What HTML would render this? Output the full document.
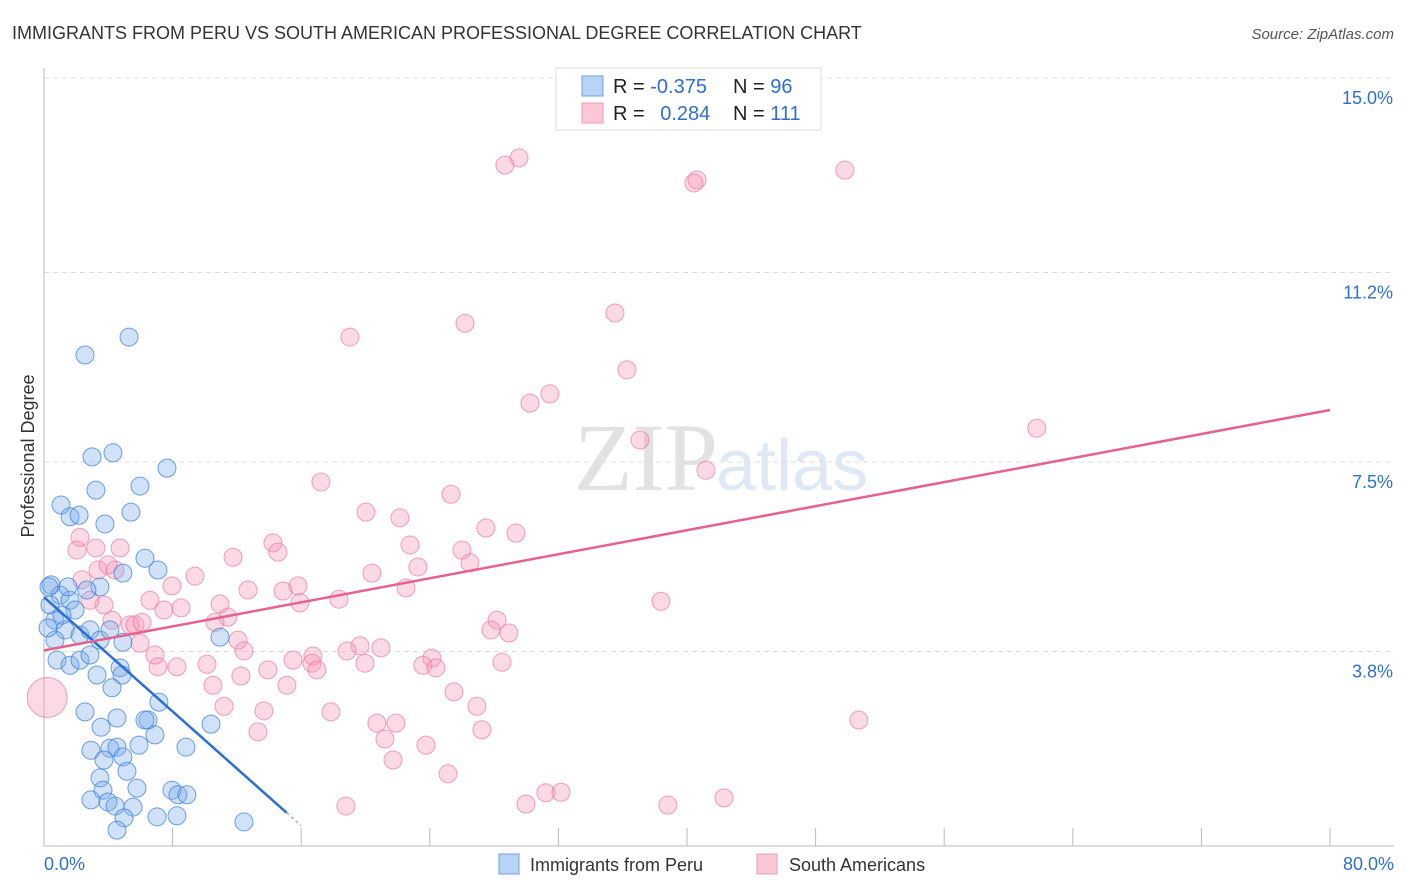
<!DOCTYPE html>
<html><head><meta charset="utf-8"><style>
body{margin:0;background:#fff;font-family:"Liberation Sans",sans-serif}
svg{display:block}
</style></head><body>
<svg id="chart" width="1406" height="892" xmlns="http://www.w3.org/2000/svg">
<text x="12" y="39" font-size="18" fill="#333">IMMIGRANTS FROM PERU VS SOUTH AMERICAN PROFESSIONAL DEGREE CORRELATION CHART</text>
<text x="1394" y="39" font-size="15" font-style="italic" fill="#555" text-anchor="end">Source: ZipAtlas.com</text>
<text x="34" y="456" font-size="18" fill="#333" text-anchor="middle" transform="rotate(-90 34 456)">Professional Degree</text>
<text x="718" y="490" font-size="96" font-family="Liberation Serif,serif" fill="#e2e2e2" text-anchor="end">ZIP</text>
<text x="716" y="490" font-size="72" fill="#dfe9f6">atlas</text>
<g id="grid"></g><g id="axes"></g><g id="pts"></g><g id="lines"></g>
<g>
<rect x="556" y="68" width="265" height="62" fill="#fff" stroke="#ddd"/>
<rect x="582" y="76" width="21" height="20" fill="#b8d4f5" stroke="#6fa2e0"/>
<rect x="582" y="103" width="21" height="20" fill="#fbc8d6" stroke="#f09ab5"/>
<text x="613" y="93" font-size="20" fill="#222">R = <tspan fill="#2f6fd0">-0.375</tspan></text>
<text x="733" y="93" font-size="20" fill="#222">N = <tspan fill="#2f6fd0">96</tspan></text>
<text x="613" y="120" font-size="20" fill="#222">R = <tspan fill="#2f6fd0" dx="10">0.284</tspan></text>
<text x="733" y="120" font-size="20" fill="#222">N = <tspan fill="#2f6fd0">111</tspan></text>
</g>
<g>
<rect x="499" y="854" width="20" height="20" fill="#b8d4f5" stroke="#6fa2e0"/>
<text x="530" y="871" font-size="18" fill="#333">Immigrants from Peru</text>
<rect x="757" y="854" width="20" height="20" fill="#fbc8d6" stroke="#f09ab5"/>
<text x="789" y="871" font-size="18" fill="#333">South Americans</text>
</g>
<text x="44" y="870" font-size="18" fill="#2f6fd0">0.0%</text>
<text x="1394" y="870" font-size="18" fill="#2f6fd0" text-anchor="end">80.0%</text>
</svg>
<script>
const yTicks=[3.8,7.5,11.2,15.0];
const yTickLabels=["3.8%","7.5%","11.2%","15.0%"];
const xTicks=[0,8,16,24,32,40,48,56,64,72,80];
const blueX=[5.29,2.55,4.29,2.99,7.65,5.97,3.23,1.06,1.62,2.18,5.41,3.79,6.28,7.09,4.91,3.48,2.67,0.44,1.0,1.62,1.93,0.37,0.68,1.31,2.24,2.86,3.48,4.1,4.91,0.81,1.62,2.24,2.86,3.3,4.73,4.85,4.23,7.15,2.55,3.55,4.54,6.47,6.28,6.9,10.39,2.92,4.1,4.54,5.91,8.83,4.91,3.48,3.73,5.16,2.92,3.67,3.98,4.42,5.54,5.78,7.96,8.33,8.89,4.98,7.03,8.27,4.54,12.44,10.95,0.68,0.25,0.31,1.12,1.49];
const blueY=[9.94,9.59,7.68,7.6,7.38,7.03,6.95,6.66,6.43,6.46,6.52,6.29,5.62,5.39,5.33,5.06,5.0,5.1,4.9,4.8,4.61,4.71,4.41,4.22,4.12,4.22,4.02,4.22,3.98,3.63,3.53,3.63,3.73,3.34,3.48,3.34,3.09,2.81,2.62,2.32,2.5,2.46,2.46,2.17,2.38,1.87,1.91,1.93,1.97,1.93,1.74,1.33,1.68,1.46,0.9,1.09,0.86,0.78,0.76,1.13,1.09,1.0,1.0,0.55,0.57,0.59,0.31,0.47,4.08,4.02,4.26,5.06,4.51,5.06];
const pinkX=[29.55,28.67,40.62,40.43,49.82,35.52,26.19,19.03,36.26,31.47,30.23,37.07,61.76,41.18,17.23,25.32,20.03,22.14,27.49,29.36,14.24,22.77,14.55,26.0,11.76,26.5,20.4,23.26,9.39,15.8,7.96,12.69,14.87,22.52,18.35,15.92,10.95,7.46,8.52,38.38,28.18,27.8,28.92,11.44,10.64,5.35,5.66,6.1,12.07,19.66,18.85,20.96,16.73,16.67,15.49,16.98,24.13,23.57,24.38,19.97,28.49,12.44,10.14,8.27,7.09,6.9,13.93,12.25,10.51,15.11,25.5,11.2,13.68,17.85,26.93,20.71,21.89,27.24,13.31,21.21,23.76,50.69,21.71,25.13,31.22,32.16,29.98,18.78,38.81,42.3,4.42,3.73,2.05,2.24,3.23,4.73,2.86,3.36,3.98,2.36,5.97,4.23,6.59];
const pinkY=[13.44,13.3,13.01,12.95,13.2,10.41,10.21,9.94,9.3,8.83,8.65,7.93,8.16,7.34,7.11,6.87,6.52,6.41,6.21,6.11,5.92,5.88,5.74,5.78,5.64,5.53,5.33,5.45,5.27,5.08,5.08,5.0,4.98,5.04,4.82,4.75,4.73,4.61,4.65,4.78,4.41,4.22,4.16,4.47,4.37,4.32,4.32,4.37,4.02,3.91,3.81,3.87,3.71,3.57,3.63,3.44,3.67,3.53,3.48,3.57,3.59,3.81,3.55,3.5,3.5,3.73,3.44,3.32,3.14,3.14,3.01,2.73,2.64,2.62,2.73,2.4,2.4,2.27,2.23,2.09,1.97,2.46,1.68,1.41,1.04,1.05,0.82,0.78,0.8,0.94,5.39,4.71,5.78,6.03,5.82,5.82,4.8,5.39,5.49,5.2,3.96,4.41,4.8];
const blueTrend=[4.86,-0.279];
const pinkTrend=[3.82,0.0587];
const NS="http://www.w3.org/2000/svg";
const X=v=>44+v/80*1286, Y=v=>846-v/3.75*192;
function mk(t,a,p){const e=document.createElementNS(NS,t);for(const k in a)e.setAttribute(k,a[k]);p.appendChild(e);return e;}
const grid=document.getElementById('grid'),axes=document.getElementById('axes');
yTicks.forEach((t,i)=>{
 const l=mk('line',{x1:44,x2:1394,y1:Y(t),y2:Y(t),stroke:'#ddd','stroke-dasharray':'5,4'},grid);
 
 
 const tx=mk('text',{x:1393,y:Y(t)+26,'font-size':18,fill:'#2f6fd0','text-anchor':'end'},grid);
 tx.textContent=yTickLabels[i];
 
 
});
const ax=mk('line',{x1:44,x2:1394,y1:846,y2:846,stroke:'#bbb'},axes);


const ay=mk('line',{x1:44,x2:44,y1:68,y2:846,stroke:'#bbb'},axes);


xTicks.forEach(t=>{const l=mk('line',{x1:X(t),x2:X(t),y1:828,y2:846,stroke:'#bbb'},axes);
 
 });
const pts=document.getElementById('pts');
pinkX.forEach((x,i)=>{const c=mk('circle',{cx:X(x),cy:Y(pinkY[i]),r:9,fill:'rgba(245,150,180,0.35)',stroke:'rgba(235,120,160,0.7)','stroke-width':1},pts);
 
 });
const big=mk('circle',{cx:X(0.2),cy:Y(2.9),r:20,fill:'rgba(245,150,180,0.35)',stroke:'rgba(235,120,160,0.7)'},pts);


blueX.forEach((x,i)=>{const c=mk('circle',{cx:X(x),cy:Y(blueY[i]),r:9,fill:'rgba(120,170,235,0.35)',stroke:'rgba(60,130,220,0.75)','stroke-width':1},pts);
 
 });
const lines=document.getElementById('lines');
const bl=mk('line',{x1:X(0),y1:Y(blueTrend[0]),x2:X(15.1),y2:Y(blueTrend[0]+blueTrend[1]*15.1),stroke:'#2a6fd6','stroke-width':2.5},lines);


const bd=mk('line',{x1:X(15.1),y1:Y(blueTrend[0]+blueTrend[1]*15.1),x2:X(16),y2:Y(blueTrend[0]+blueTrend[1]*16),stroke:'#9bb',"stroke-width":1.5,'stroke-dasharray':'3,3'},lines);


const pl=mk('line',{x1:X(0),y1:Y(pinkTrend[0]),x2:X(80),y2:Y(pinkTrend[0]+pinkTrend[1]*80),stroke:'#e8608e','stroke-width':2.5},lines);


</script>
</body></html>
